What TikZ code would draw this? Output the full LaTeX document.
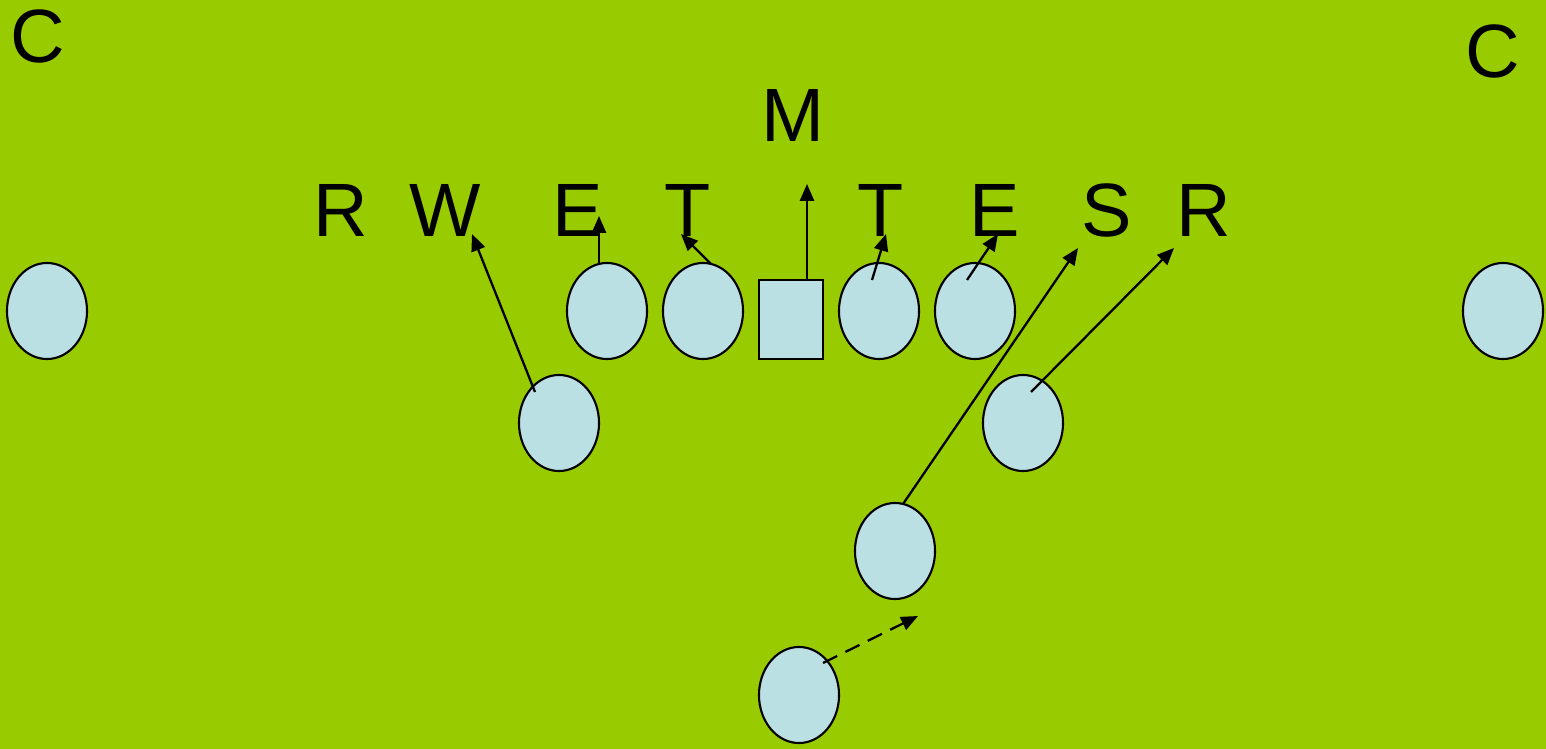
\documentclass[tikz,border=0pt]{standalone}
\usepackage{fontspec}
\setmainfont{Liberation Sans}
\usetikzlibrary{shapes.geometric,arrows.meta}
\definecolor{field}{HTML}{99CC00}
\definecolor{player}{HTML}{BBE0E3}
\tikzset{
  pl/.style={ellipse, draw=black, fill=player, line width=0.6pt, minimum width=0.8cm, minimum height=0.96cm, inner sep=0pt},
  ctr/.style={rectangle, draw=black, fill=player, line width=0.6pt, minimum width=0.64cm, minimum height=0.79cm, inner sep=0pt},
  lab/.style={font=\fontsize{21.5}{26}\selectfont, inner sep=0pt, text=black},
  rt/.style={line width=0.65pt, -{Triangle[length=4.8pt, width=4pt]}},
  rtd/.style={rt, dash pattern=on 4.5pt off 2.6pt}
}
\begin{document}
\begin{tikzpicture}[x=0.01cm, y=-0.01cm]
\fill[field] (0,0) rectangle (1546,749);
\useasboundingbox (0,0) rectangle (1546,749);
% labels
\node[lab] (cl) at (38,36) {C};
\node[lab] (cr) at (1493,51) {C};
\node[lab] (m) at (793,115) {M};
\node[lab] (r1) at (341,210) {R};
\node[lab] (w) at (445,210) {W};
\node[lab] (e1) at (578,210) {E};
\node[lab] (t1) at (688,210) {T};
\node[lab] (t2) at (881,210) {T};
\node[lab] (e2) at (995,210) {E};
\node[lab] (s) at (1107,210) {S};
\node[lab] (r2) at (1204,210) {R};
% players
\node[pl] (p1) at (47,311) {};
\node[pl] (p2) at (607,311) {};
\node[pl] (p3) at (703,311) {};
\node[ctr] (c) at (791,319.5) {};
\node[pl] (p5) at (879,311) {};
\node[pl] (p6) at (975,311) {};
\node[pl] (p7) at (1503,311) {};
\node[pl] (p8) at (559,423) {};
\node[pl] (p9) at (1023,423) {};
\node[pl] (p10) at (895,551) {};
\node[pl] (p11) at (799,695) {};
% route points
\coordinate (a8s) at (535,392); \coordinate (a8e) at (472,234);
\coordinate (a2s) at (599,264); \coordinate (a2e) at (599,216);
\coordinate (a3s) at (711,264); \coordinate (a3e) at (681,234);
\coordinate (acs) at (807,280); \coordinate (ace) at (807,184);
\coordinate (a5s) at (872,280); \coordinate (a5e) at (886,234);
\coordinate (a6s) at (967,280); \coordinate (a6e) at (998,234);
\coordinate (a10s) at (903,504); \coordinate (a10e) at (1078,248);
\coordinate (a9s) at (1031,392); \coordinate (a9e) at (1174,248);
\coordinate (a11s) at (823,663); \coordinate (a11e) at (918,616);
% routes
\draw[rt] (a8s) -- (a8e);
\draw[rt] (a2s) -- (a2e);
\draw[rt] (a3s) -- (a3e);
\draw[rt] (acs) -- (ace);
\draw[rt] (a5s) -- (a5e);
\draw[rt] (a6s) -- (a6e);
\draw[rt] (a10s) -- (a10e);
\draw[rt] (a9s) -- (a9e);
\draw[rtd] (a11s) -- (a11e);
\end{tikzpicture}
\end{document}
